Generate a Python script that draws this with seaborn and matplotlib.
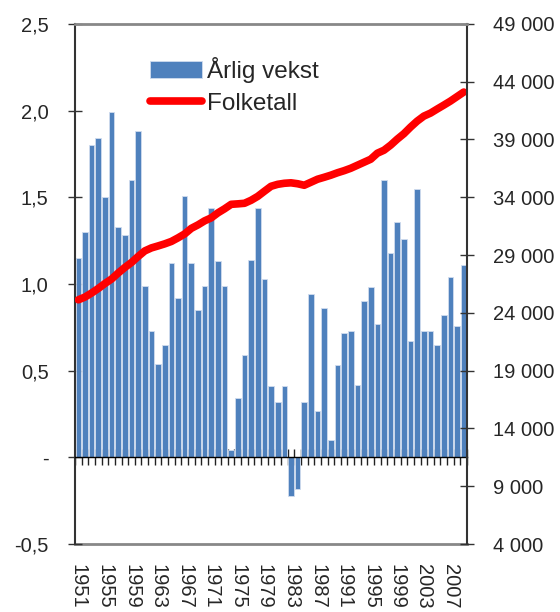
import numpy as np
import pandas as pd
import matplotlib
matplotlib.use("Agg")
import matplotlib.pyplot as plt
import matplotlib.ticker as mticker
import seaborn as sns

# data
years = list(range(1951, 2010))
vekst = [1.15, 1.30, 1.80, 1.84, 1.50, 1.99, 1.33, 1.28, 1.60, 1.88,
         0.99, 0.73, 0.54, 0.65, 1.12, 0.92, 1.51, 1.12, 0.85, 0.99,
         1.44, 1.13, 0.99, 0.04, 0.34, 0.59, 1.14, 1.44, 1.03, 0.41,
         0.32, 0.41, -0.22, -0.18, 0.32, 0.94, 0.27, 0.86, 0.10, 0.53,
         0.72, 0.73, 0.42, 0.90, 0.98, 0.77, 1.60, 1.18, 1.36, 1.26,
         0.67, 1.55, 0.73, 0.73, 0.65, 0.82, 1.04, 0.76, 1.11]
folketall = [25130, 25370, 25720, 26110, 26540, 26930, 27450, 27930, 28360, 28880,
             29360, 29620, 29790, 29970, 30180, 30490, 30830, 31310, 31610, 31960,
             32220, 32650, 33000, 33390, 33430, 33480, 33740, 34080, 34520, 34950,
             35120, 35210, 35250, 35170, 35040, 35300, 35560, 35730, 35910, 36120,
             36300, 36510, 36770, 37030, 37290, 37810, 38070, 38510, 39030, 39500,
             40070, 40590, 41020, 41280, 41630, 41970, 42320, 42710, 43100]
label_years = years[::4]

sns.set_style("white")
plt.rcParams['font.family'] = ['Liberation Sans', 'DejaVu Sans']
plt.rcParams['font.size'] = 14.5

df = pd.DataFrame({'aar': years, 'vekst': vekst, 'folketall': folketall})

fig = plt.figure(figsize=(5.6, 6.12), dpi=100)
ax = fig.add_axes([0.134, 0.111, 0.700, 0.850])

sns.barplot(data=df, x='aar', y='vekst', native_scale=True, color='#4F81BD',
            saturation=1, width=0.85, edgecolor='#D0DCEE', linewidth=0.6, ax=ax)
ax.set_xlim(1950.5, 2009.5)
ax.set_ylim(-0.5, 2.5)
ax.set_yticks(np.arange(-0.5, 2.51, 0.5))
ax.yaxis.set_major_formatter(mticker.FuncFormatter(
    lambda v, p: '-' if abs(v) < 1e-9 else f'{v:.1f}'.replace('.', ',')))
ax.tick_params(axis='y', left=True, direction='inout', length=10, width=1,
               color='#333333', pad=14)
ax.set_xlabel('')
ax.set_ylabel('')

# zero line with a tick between every year
ax.spines['bottom'].set_position(('data', 0))
ax.spines['bottom'].set_color('black')
ax.spines['bottom'].set_linewidth(1)
ax.set_xticks(np.arange(1950.5, 2010, 1))
ax.set_xticklabels([])
ax.tick_params(axis='x', bottom=True, direction='inout', length=11, width=1,
               color='#222222')
ax.spines['left'].set_color('#333333')
ax.spines['left'].set_linewidth(1.5)
ax.spines['top'].set_visible(False)
ax.spines['right'].set_visible(False)

# year labels along the bottom of the frame
sec = ax.secondary_xaxis(0.0)
sec.set_xticks(label_years)
sec.set_xticklabels([str(y) for y in label_years], rotation=270)
sec.tick_params(axis='x', length=0, pad=14)
sec.spines['bottom'].set_color('#888888')
sec.spines['bottom'].set_linewidth(2)

ax2 = ax.twinx()
sns.lineplot(data=df, x='aar', y='folketall', color='#FF0000', linewidth=5.5,
             solid_capstyle='round', ax=ax2)
ax2.set_ylim(4000, 49000)
ax2.set_yticks(range(4000, 49001, 5000))
ax2.yaxis.set_major_formatter(mticker.FuncFormatter(
    lambda v, p: f'{int(v):,}'.replace(',', ' ')))
ax2.tick_params(axis='y', right=True, direction='inout', length=10, width=1,
                color='#333333', pad=14)
ax2.set_ylabel('')
ax2.set_xlabel('')
ax2.spines['left'].set_visible(False)
ax2.spines['bottom'].set_visible(False)
ax2.spines['top'].set_color('#888888')
ax2.spines['top'].set_linewidth(2)
ax2.spines['right'].set_color('#333333')
ax2.spines['right'].set_linewidth(1.5)

ax2.legend([ax.containers[0], ax2.lines[0]], ['Årlig vekst', 'Folketall'],
           loc='upper left', bbox_to_anchor=(0.191, 0.937), frameon=False,
           borderpad=0, borderaxespad=0, handlelength=2.15, handletextpad=0.2,
           labelspacing=0.42, fontsize=17.5)

fig.savefig('out.png', dpi=100)
